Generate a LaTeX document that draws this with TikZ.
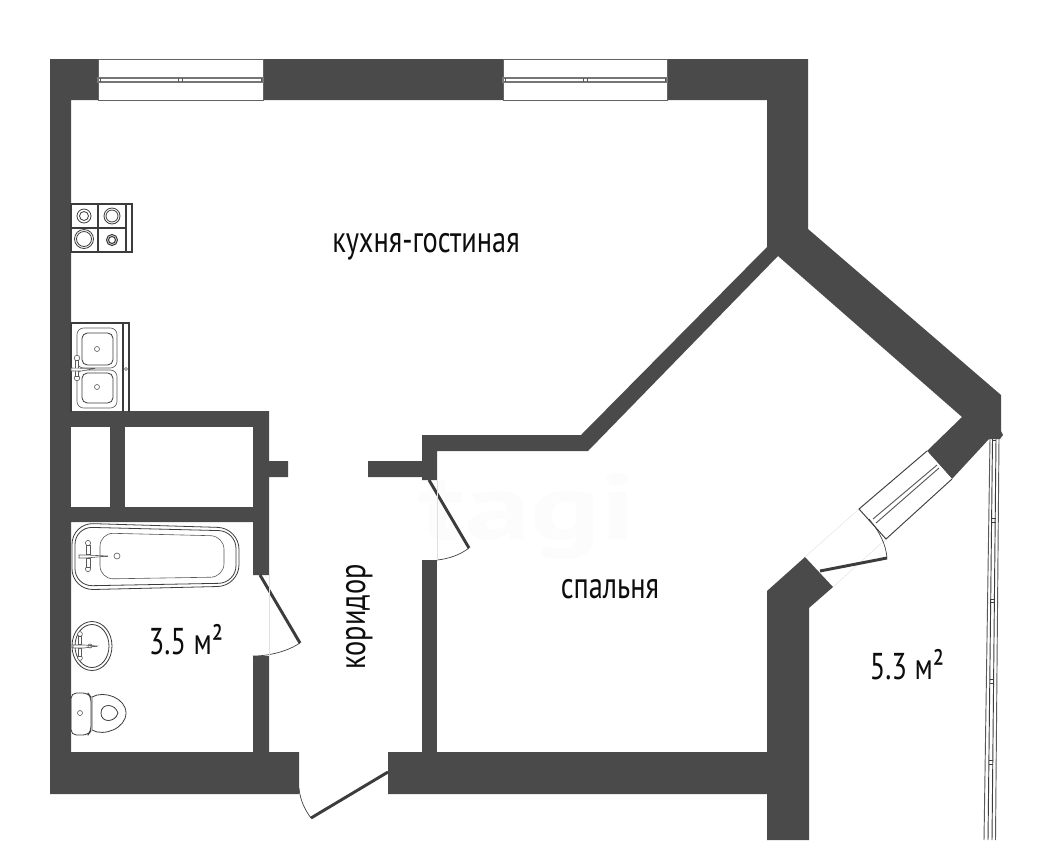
\documentclass[tikz,border=0pt]{standalone}
\usepackage{fontspec}
\setmainfont[FakeStretch=0.76]{PT Sans}
\definecolor{wallc}{HTML}{4A4A4A}
\definecolor{linec}{HTML}{3C3C3C}
\tikzset{
 wall/.style={fill=wallc,draw=none},
 fix/.style={draw=linec,line width=0.6pt,fill=none},
 fixthin/.style={draw=linec!85,line width=0.45pt,fill=none},
 doorleaf/.style={draw=linec,line width=2.2pt},
 doorarc/.style={draw=linec,line width=0.5pt},
 faint/.style={draw=black!12,line width=0.3pt},
 glass/.style={draw=linec!85,line width=0.7pt},
 roomlabel/.style={font=\fontsize{28}{30}\selectfont,text=black!95,inner sep=0pt,anchor=base}
}
\begin{document}
\begin{tikzpicture}[x=0.75pt,y=-0.75pt]
\useasboundingbox (0,0) rectangle (1050,840);
\fill[white] (0,0) rectangle (1050,840);
% watermark
\node[font=\fontsize{70}{72}\selectfont\bfseries,text=black!1.2,inner sep=0pt,xscale=1.85,transform shape] (mark) at (528,516) {tagi};
% outer walls
\path[wall] (50,59) -- (808,59) -- (808,229) -- (1001,395) -- (1001,431) -- (1003,435) -- (1000,439) -- (989,439) -- (952,479) -- (927,451) -- (962,417) -- (778,256) -- (588,451) -- (437,451) -- (437,480) -- (422,480) -- (422,477) -- (368,477) -- (368,461) -- (422,461) -- (422,435) -- (581,435) -- (767,247) -- (767,100) -- (71,100) -- (71,411) -- (269,411) -- (269,461) -- (288,461) -- (288,477) -- (269,477) -- (269,575) -- (253,575) -- (253,522) -- (125,522) -- (71,522) -- (71,752) -- (253,752) -- (253,656) -- (269,656) -- (269,752) -- (299,752) -- (299,794) -- (50,794) -- cycle;
\path[fill=white] (71,427) rectangle (110,507);
\path[fill=white] (125,427) rectangle (253,507);
\path[wall] (71,507) rectangle (253,522);
\path[wall] (422,560) rectangle (437,752);
\path[wall] (388,752) -- (767,752) -- (767,591) -- (805,557) -- (833,587) -- (809,608) -- (809,840) -- (767,840) -- (767,794) -- (388,794) -- cycle;
% top windows
\foreach \xa/\xb in {98/263,503/667}{
 \path[fill=white,draw=linec!80,line width=0.6pt] (\xa,59) rectangle (\xb,100);
 \path[fill=white,draw=linec!70,line width=0.8pt] (\xa,78) rectangle (\xb,82);
 \draw[fixthin] ({(\xa+\xb)/2-2},78) -- ++(0,4) ({(\xa+\xb)/2+2},78) -- ++(0,4) (\xa+2,78) -- ++(0,4) (\xb-2,78) -- ++(0,4);
}
% stove
\draw[draw=linec,line width=0.8pt,fill=white] (71,204) rectangle (132,252);
\draw[draw=linec,line width=0.8pt] (98,204) -- (98,252) (126,204) -- (126,252) (71,228) -- (126,228);
\draw[fix] (84,216) circle (7) (84,216) circle (4.5) (112,216) circle (8) (112,216) circle (6) (84,239) circle (9.5) (84,239) circle (7.5);
\draw[fix,line width=0.8pt] (112,240) circle (5.5) (112,240) circle (3.5);
% kitchen sink
\draw[draw=linec,line width=0.8pt] (71,323) -- (129,323) -- (129,412) (71,323) -- (71,412) (123,323) -- (123,412);
\draw[fixthin,rounded corners=5pt] (77,328) rectangle (117,368);
\draw[fixthin,rounded corners=5pt] (77,370) rectangle (117,408);
\draw[fix,rounded corners=4pt] (82,333) rectangle (113,365);
\draw[fix,rounded corners=4pt] (82,373) rectangle (113,403);
\draw[fixthin] (97,349) circle (2.5) (97,387) circle (2.5) (126,369) circle (1.5);
\draw[fixthin,fill=white] (77,358) circle (2.8) (77,378) circle (2.8);
\draw[fixthin,fill=white] (75.5,360) rectangle (78.5,376);
\draw[fixthin,fill=white] (71,368) -- (95,368.5) -- (81,371) -- (71,371) -- cycle;
% bath
\draw[fix,rounded corners=16pt] (72,523) -- (239,528) -- (239,586) -- (72,590) -- cycle;
\draw[fix,rounded corners=13pt] (75,527) -- (236,531) -- (236,583) -- (75,586) -- cycle;
\draw[fixthin,rounded corners=10pt] (100,533) -- (224,536) -- (224,577) -- (100,579) -- cycle;
\draw[fixthin] (88,543) -- (88,569) (79,556) -- (108,556);
\draw[fixthin,fill=white] (88,543) circle (2.6) (88,569) circle (2.6);
\draw[fixthin,fill=white] (86,545) rectangle (90,554) (86,558) rectangle (90,567);
\draw[fixthin,fill=white] (79,555) -- (86,555) -- (108,556) -- (86,558) -- (79,558) -- cycle;
\draw[fixthin] (117,556) circle (3);
% washbasin
\begin{scope}
\clip (71,600) rectangle (130,690);
\draw[fix] (92,646) ellipse (20 and 24.5);
\draw[fix] (92,646) ellipse (17 and 21.5);
\end{scope}
\draw[fixthin] (80,634) -- (80,658) (73,646) -- (97,646);
\draw[fixthin,fill=white] (80,634) circle (2.4) (80,658) circle (2.4);
\draw[fixthin,fill=white] (78.5,636) rectangle (81.5,644) (78.5,648) rectangle (81.5,656);
\draw[fixthin,fill=white] (73,645) -- (84,645) -- (97,646) -- (84,648) -- (73,648) -- cycle;
\draw[fixthin] (90,646) circle (2);
% toilet
\draw[fix,rounded corners=4pt] (71,693) -- (88,693) -- (91,697) -- (91,731) -- (88,735) -- (71,735) -- cycle;
\draw[fix] (92,697) .. controls (104,690) and (126,698) .. (126,713) .. controls (126,728) and (104,737) .. (92,730) -- cycle;
\draw[fix] (101,713) .. controls (101,703) and (115,703) .. (118,713) .. controls (115,723) and (101,723) .. (101,713) -- cycle;
\draw[fixthin] (80,713) circle (2.5);
% doors
\coordinate (hingeA) at (429,480); \coordinate (tipA) at (469,548); \coordinate (jambA) at (437,560);
\draw[doorleaf] (hingeA) -- (tipA);
\draw[doorarc] (tipA) .. controls (460,555) and (448,559) .. (jambA);
\draw[faint] (437,480) -- (437,560);
\coordinate (hingeB) at (260,575); \coordinate (tipB) at (300,643); \coordinate (jambB) at (253,656);
\draw[doorleaf] (hingeB) -- (tipB);
\draw[doorarc] (tipB) .. controls (288,651) and (270,656) .. (jambB);
\draw[faint] (269,575) -- (269,656);
\coordinate (hingeC) at (388,772); \coordinate (tipC) at (311,818); \coordinate (jambC) at (299,788);
\draw[doorleaf] (hingeC) -- (tipC);
\draw[doorarc] (tipC) .. controls (305,810) and (300,800) .. (jambC);
% balcony door + window
\draw[faint] (859,509) -- (805,557) (886,539) -- (833,587);
\path[fill=white,draw=linec,line width=0.7pt] (927,451) -- (859,509) -- (886,539) -- (952,479);
\draw[glass] (873,519) -- (937,465) (876,523) -- (939,468);
\coordinate (hingeD) at (820,571); \coordinate (tipD) at (887,558);
\draw[doorleaf] (hingeD) -- (tipD);
\draw[doorarc] (tipD) .. controls (886,545) and (880,532) .. (869,519);
% balcony glazing
\draw[glass] (990,439) -- (984,840) (999,439) -- (995.5,840);
\draw[fix,line width=0.7pt] (992.5,439) -- (988,840) (996,439) -- (992,840);
\foreach \yy/\xa/\xb in {440/992.5/996, 518/991.5/995.5, 522/991.5/995.5, 599/990.5/994.5, 602/990.5/994.5, 679/989.5/993.5, 683/989.5/993.5, 760/989/993, 764/989/993}{
 \draw[fix] (\xa,\yy) -- (\xb,\yy);
}
% labels
\node[roomlabel] (kitchen) at (426,252) {кухня-гостиная};
\node[roomlabel] (bedroom) at (610,598) {спальня};
\node[roomlabel,rotate=90] (corridor) at (365,617) {коридор};
\node[roomlabel] (bath) at (186,654) {3.5 м²};
\node[roomlabel] (balcony) at (907,679) {5.3 м²};
\end{tikzpicture}
\end{document}
